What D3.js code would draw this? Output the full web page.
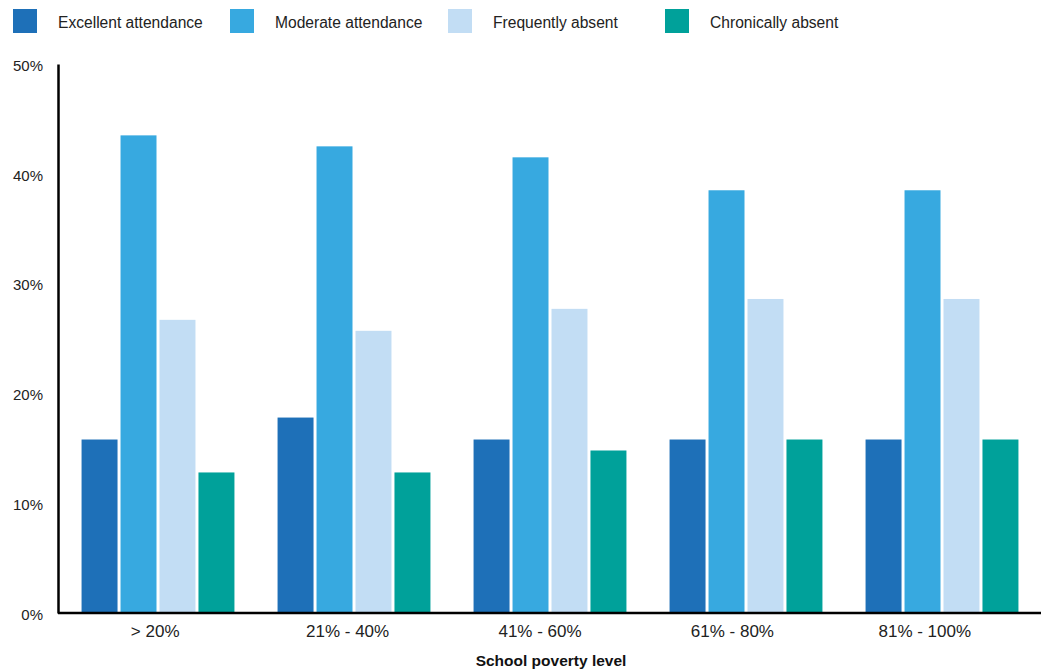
<!DOCTYPE html>
<html>
<head>
<meta charset="utf-8">
<script src="https://cdn.jsdelivr.net/npm/d3@7"></script>
<style>
  html, body { margin: 0; padding: 0; background: #fff; }
  svg { display: block; font-family: "Liberation Sans", Arial, sans-serif; }
</style>
</head>
<body>
<svg id="chart" width="1045" height="671"></svg>
<script>
// Attendance category shares by school poverty level (percent of students)
const categories = ["> 20%", "21% - 40%", "41% - 60%", "61% - 80%", "81% - 100%"];
const seriesNames = ["Excellent attendance", "Moderate attendance", "Frequently absent", "Chronically absent"];
const excellent = [15.8, 17.8, 15.8, 15.8, 15.8];
const moderate = [43.5, 42.5, 41.5, 38.5, 38.5];
const frequently = [26.7, 25.7, 27.7, 28.6, 28.6];
const chronically = [12.8, 12.8, 14.8, 15.8, 15.8];
const yTicks = [0, 10, 20, 30, 40, 50];
const colors = ["#1e70b8", "#37a9e0", "#c2ddf4", "#00a19a"];

const seriesValues = [excellent, moderate, frequently, chronically];
const data = categories.map((c, i) => ({
  category: c,
  values: seriesNames.map((s, j) => ({ series: s, value: seriesValues[j][i] }))
}));

const svg = d3.select("#chart");
const font = "'Liberation Sans', Arial, sans-serif";
const plotLeft = 58, plotRight = 1041, plotTop = 64, plotBottom = 613;

// Group positions for the bars
const x0 = d3.scaleBand().domain(categories).range([60, 1040])
  .paddingInner(0.22).paddingOuter(0.11);
// Category label positions along the baseline
const xLabel = d3.scaleBand().domain(categories).range([59, 1021])
  .paddingInner(0.22).paddingOuter(0.11);
const x1 = d3.scaleBand().domain(seriesNames).range([0, x0.bandwidth()])
  .paddingInner(0.077);
const y = d3.scaleLinear().domain([0, 50]).range([plotBottom, plotTop]);
const color = d3.scaleOrdinal().domain(seriesNames).range(colors);

// Bars
const groups = svg.append("g").selectAll("g").data(data).join("g")
  .attr("transform", d => `translate(${x0(d.category)},0)`);
groups.selectAll("rect").data(d => d.values).join("rect")
  .attr("x", d => x1(d.series))
  .attr("width", x1.bandwidth())
  .attr("y", d => y(d.value))
  .attr("height", d => y(0) - y(d.value))
  .attr("fill", d => color(d.series));

// Y axis
const yAxis = svg.append("g").attr("transform", `translate(${plotLeft},0)`)
  .call(d3.axisLeft(y).tickValues(yTicks).tickFormat(d => d + "%").tickSize(0).tickPadding(15));
yAxis.attr("font-family", font);
yAxis.select(".domain").attr("stroke", "#000").attr("stroke-width", 2.5);
yAxis.selectAll("text").attr("font-size", 15).attr("fill", "#222").attr("dy", "0.42em");

// X axis
const xAxis = svg.append("g").attr("transform", `translate(0,${plotBottom})`)
  .call(d3.axisBottom(xLabel).tickSize(0).tickPadding(12));
xAxis.attr("font-family", font);
xAxis.select(".domain").attr("d", `M${plotLeft},0H${plotRight}`)
  .attr("stroke", "#000").attr("stroke-width", 2.5);
xAxis.selectAll("text").attr("font-size", 17).attr("fill", "#222");

// X axis title
svg.append("text")
  .attr("x", 551).attr("y", 666)
  .attr("text-anchor", "middle")
  .attr("font-size", 15.5).attr("font-weight", "bold").attr("fill", "#111")
  .text("School poverty level");

// Legend
const legendX = [13, 230, 448, 665];
const legend = svg.append("g").selectAll("g").data(seriesNames).join("g")
  .attr("transform", (d, i) => `translate(${legendX[i]},9)`);
legend.append("rect").attr("width", 24).attr("height", 24)
  .attr("fill", d => color(d));
legend.append("text").attr("x", 45).attr("y", 19)
  .attr("font-size", 15.6).attr("fill", "#222")
  .text(d => d);
</script>
</body>
</html>
